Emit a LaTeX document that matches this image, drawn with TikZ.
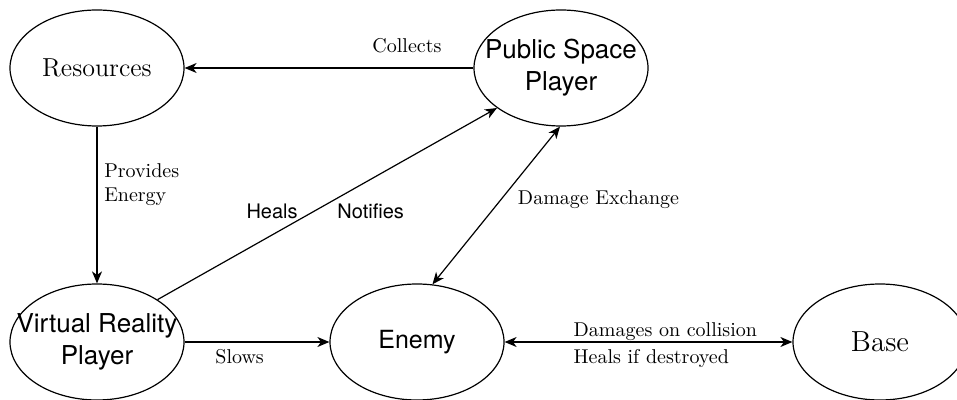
\documentclass[tikz,border=0pt]{standalone}
\usepackage{fontspec}
\newfontfamily\hv{TeX Gyre Heros}
\usetikzlibrary{shapes.geometric,arrows.meta}
\begin{document}
\begin{tikzpicture}[x=0.5pt,y=-0.5pt,
  line width=0.6pt,
  state/.style={draw,ellipse,inner sep=0pt,minimum width=87pt,minimum height=58pt},
  statetext/.style={label={[align=center,#1]center:}},
  sanslabel/.style={font=\hv\fontsize{13}{16}\selectfont},
  seriflabel/.style={font=\fontsize{13}{16}\selectfont},
  edgetext/.style={font=\fontsize{10}{12}\selectfont},
  tip/.style={-{Stealth[length=6pt,width=5pt,inset=1.8pt]}},
  bitip/.style={{Stealth[length=6pt,width=5pt,inset=1.8pt]}-{Stealth[length=6pt,width=5pt,inset=1.8pt]}}]
\useasboundingbox (0,0) rectangle (957,400);

% states: fixed-size ellipses, text set as centred labels
\node[state,label={[seriflabel]center:Resources}] (res) at (97,68) {};
\node[state,label={[sanslabel,align=center]center:Public Space\\Player}] (psp) at (561,68) {};
\node[state,label={[sanslabel,align=center]center:Virtual Reality\\Player}] (vr) at (97,342) {};
\node[state,label={[font=\hv\fontsize{12.5}{15}\selectfont]center:Enemy}] (enemy) at (417,342) {};
\node[state,label={[font=\fontsize{14.5}{17}\selectfont]center:Base}] (base) at (880,342) {};

% transitions
\draw[tip] (psp) -- (res)
  node[pos=0.23,above=4pt,edgetext] {Collects};
\draw[tip] (res) -- (vr)
  node[pos=0.37,right,align=left,edgetext] {Provides\\Energy};
\draw[tip] (vr.35.5) -- (psp.212)
  node[pos=0.46,xshift=-20.8pt,font=\hv\fontsize{10}{12}\selectfont] {Heals}
  node[pos=0.46,xshift=28.5pt,font=\hv\fontsize{10}{12}\selectfont] {Notifies};
\draw[bitip] (enemy.75) -- (psp.269)
  node[pos=0.54,anchor=west,xshift=4.7pt,edgetext] {Damage Exchange};
\draw[tip] (vr) -- (enemy)
  node[pos=0.38,below,edgetext] {Slows};
\draw[bitip] (enemy) -- (base)
  node[pos=0.238,anchor=south west,inner xsep=0pt,inner ysep=0.5pt,edgetext] {Damages on collision}
  node[pos=0.238,anchor=north west,inner xsep=0pt,edgetext] {Heals if destroyed};
\end{tikzpicture}
\end{document}
